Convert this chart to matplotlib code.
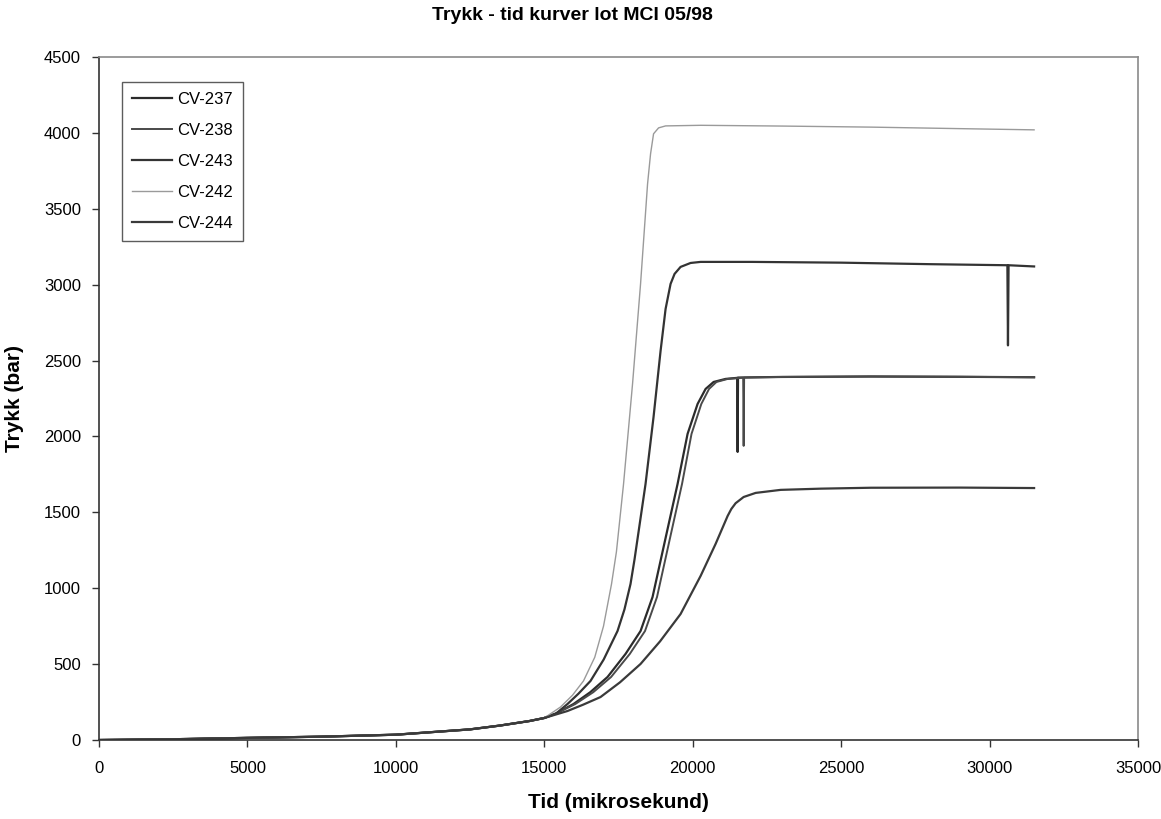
import matplotlib
matplotlib.use('Agg')
import matplotlib.pyplot as plt

plt.rcParams['font.family'] = ['Liberation Sans', 'DejaVu Sans']

# shared start of all curves (tid in mikrosekund, trykk in bar)
t_base = [0, 2500, 5000, 7500, 10000, 12500, 13500, 14500, 15000]
p_base = [0, 5, 14, 22, 35, 70, 95, 125, 145]

# CV-237 (2400 bar plateau, left of the pair)
t_237 = [15400, 15984, 16550, 17130, 17737, 18243, 18647, 19085, 19490, 19827,
         20164, 20434, 20704, 21108, 21500, 21513, 21526, 23000, 26000, 29000, 31500]
p_237 = [175, 237, 315, 415, 567, 718, 942, 1330, 1687, 2017,
         2214, 2313, 2359, 2379, 2386, 1898, 2388, 2392, 2395, 2393, 2390]

# CV-238 (2400 bar plateau, right of the pair)
t_238 = [15400, 16044, 16650, 17250, 17880, 18393, 18797, 19235, 19640, 19960,
         20290, 20550, 20800, 21180, 21700, 21716, 21732, 23000, 26000, 29000, 31500]
p_238 = [175, 237, 315, 415, 567, 718, 942, 1330, 1687, 2017,
         2214, 2313, 2359, 2379, 2387, 1938, 2388, 2392, 2395, 2393, 2390]

# CV-243 (3150 bar plateau)
t_243 = [15400, 15781, 16150, 16557, 17000, 17467, 17700, 17905, 18040, 18411,
         18681, 18917, 19086, 19254, 19389, 19591, 19929, 20266, 22000, 25000,
         28000, 30600, 30620, 30640, 31500]
p_243 = [175, 237, 305, 389, 530, 718, 860, 1028, 1190, 1687,
         2129, 2563, 2840, 3005, 3071, 3117, 3143, 3150, 3150, 3145,
         3135, 3128, 2600, 3128, 3120]

# CV-242 (4050 bar plateau)
t_242 = [15545, 15950, 16320, 16700, 16995, 17265, 17430, 17670, 17973, 18243,
         18479, 18580, 18681, 18850, 19086, 20270, 23000, 26000, 29000, 31500]
p_242 = [217, 295, 389, 545, 750, 1028, 1240, 1687, 2346, 3005,
         3664, 3862, 3994, 4033, 4046, 4050, 4045, 4038, 4028, 4020]

# CV-244 (1680 bar plateau)
t_244 = [15781, 16300, 16894, 17550, 18243, 18900, 19591, 20266, 20771, 21176,
         21300, 21445, 21715, 22120, 22963, 24312, 26000, 29000, 31500]
p_244 = [191, 232, 283, 380, 501, 650, 830, 1081, 1292, 1476,
         1522, 1560, 1601, 1628, 1648, 1656, 1662, 1663, 1660]

series = [
    ('CV-237', t_237, p_237, '#2b2b2b', 1.6),
    ('CV-238', t_238, p_238, '#4a4a4a', 1.4),
    ('CV-243', t_243, p_243, '#333333', 1.6),
    ('CV-242', t_242, p_242, '#9a9a9a', 1.0),
    ('CV-244', t_244, p_244, '#3a3a3a', 1.6),
]

fig = plt.figure(figsize=(11.61, 8.19), dpi=100)
ax = fig.add_axes([99 / 1161, 1 - 740 / 819, (1138 - 99) / 1161, (740 - 57) / 819])

for name, t, p, col, lw in series:
    ax.plot(t_base + t, p_base + p, color=col, lw=lw, label=name)

ax.set_xlim(0, 35000)
ax.set_ylim(0, 4500)
ax.set_xticks(range(0, 35001, 5000))
ax.set_yticks(range(0, 4501, 500))
ax.tick_params(direction='out', length=5, width=1, labelsize=12, color='#333333')
ax.tick_params(axis='x', pad=10)
ax.tick_params(axis='y', pad=8)

for side in ['left', 'bottom']:
    ax.spines[side].set_color('#333333')
    ax.spines[side].set_linewidth(1.2)
for side in ['top', 'right']:
    ax.spines[side].set_color('#8a8a8a')
    ax.spines[side].set_linewidth(1.2)

ax.set_xlabel('Tid (mikrosekund)', fontsize=15, fontweight='bold', labelpad=12)
ax.set_ylabel('Trykk (bar)', fontsize=15, fontweight='bold', labelpad=14)
fig.text(572 / 1161, 1 - 15 / 819, 'Trykk - tid kurver lot MCI 05/98',
         ha='center', va='center', fontsize=14, fontweight='bold')

leg = ax.legend(loc='upper left', bbox_to_anchor=(0.022, 0.963), fontsize=12,
                frameon=True, fancybox=False, borderaxespad=0, handlelength=2.4,
                labelspacing=0.95, handletextpad=0.3, borderpad=0.6)
leg.get_frame().set_edgecolor('#333333')
leg.get_frame().set_linewidth(1.0)

fig.savefig('out.png', dpi=100)
